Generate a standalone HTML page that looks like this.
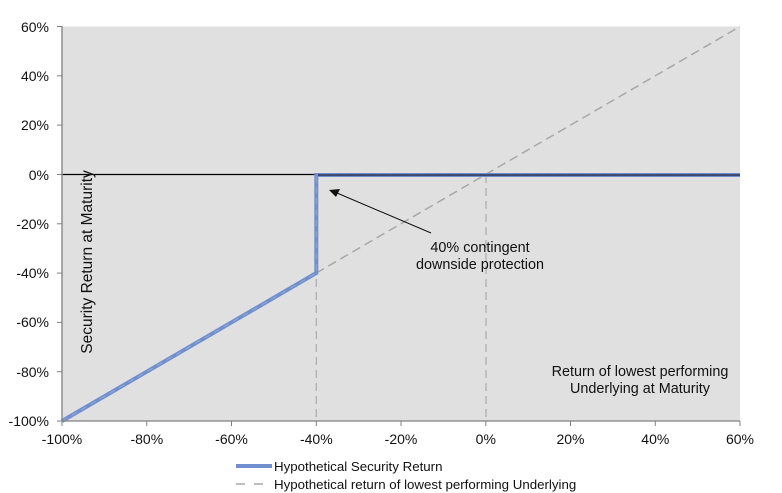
<!DOCTYPE html>
<html><head><style>
html,body{margin:0;padding:0;background:#fff;}
svg{display:block;font-family:"Liberation Sans",Arial,sans-serif;}
</style></head><body>
<svg width="782" height="493" viewBox="0 0 782 493">
<rect x="62" y="26.5" width="678" height="394.5" fill="#e0e0e0"/>
<line x1="316.3" y1="175" x2="316.3" y2="421" stroke="#b0b0b0" stroke-width="1.3" stroke-dasharray="8,5"/>
<line x1="486" y1="175" x2="486" y2="421" stroke="#b0b0b0" stroke-width="1.3" stroke-dasharray="8,5"/>
<line x1="62" y1="174.5" x2="740" y2="174.5" stroke="#000" stroke-width="1.3"/>
<line x1="62" y1="421" x2="740" y2="26.5" stroke="#a8a8a8" stroke-width="1.5" stroke-dasharray="9,5"/>
<polyline points="62,421 316.3,273 316.3,175 740,175" fill="none" stroke="#6f8fcf" stroke-width="4"/>
<polyline points="62,421 316.3,273 316.3,175 740,175" fill="none" stroke="#8ea4d4" stroke-width="1.2" stroke-dasharray="6,5"/>
<line x1="318" y1="175" x2="740" y2="175" stroke="#2a3550" stroke-width="1.5"/>
<line x1="62" y1="26" x2="62" y2="421" stroke="#808080" stroke-width="1.3"/>
<line x1="62" y1="421" x2="740" y2="421" stroke="#808080" stroke-width="1.3"/>
<g stroke="#808080" stroke-width="1">
<line x1="57" y1="26.5" x2="62" y2="26.5"/><line x1="57" y1="75.8" x2="62" y2="75.8"/><line x1="57" y1="125.1" x2="62" y2="125.1"/><line x1="57" y1="174.5" x2="62" y2="174.5"/><line x1="57" y1="223.8" x2="62" y2="223.8"/><line x1="57" y1="273.1" x2="62" y2="273.1"/><line x1="57" y1="322.4" x2="62" y2="322.4"/><line x1="57" y1="371.7" x2="62" y2="371.7"/><line x1="57" y1="421" x2="62" y2="421"/>
<line x1="62" y1="421" x2="62" y2="426"/><line x1="146.8" y1="421" x2="146.8" y2="426"/><line x1="231.5" y1="421" x2="231.5" y2="426"/><line x1="316.3" y1="421" x2="316.3" y2="426"/><line x1="401" y1="421" x2="401" y2="426"/><line x1="485.8" y1="421" x2="485.8" y2="426"/><line x1="570.5" y1="421" x2="570.5" y2="426"/><line x1="655.3" y1="421" x2="655.3" y2="426"/><line x1="740" y1="421" x2="740" y2="426"/>
</g>
<g font-size="14" fill="#111" text-anchor="end">
<text x="49" y="32">60%</text><text x="49" y="81">40%</text><text x="49" y="130">20%</text><text x="49" y="180">0%</text><text x="49" y="229">-20%</text><text x="49" y="278">-40%</text><text x="49" y="327">-60%</text><text x="49" y="377">-80%</text><text x="49" y="426">-100%</text>
</g>
<g font-size="14" fill="#111" text-anchor="middle">
<text x="62" y="444">-100%</text><text x="146.8" y="444">-80%</text><text x="231.5" y="444">-60%</text><text x="316.3" y="444">-40%</text><text x="401" y="444">-20%</text><text x="485.8" y="444">0%</text><text x="570.5" y="444">20%</text><text x="655.3" y="444">40%</text><text x="740" y="444">60%</text>
</g>
<text transform="translate(92,262) rotate(-90)" font-size="15.5" fill="#111" text-anchor="middle">Security Return at Maturity</text>
<g font-size="14.4" fill="#111" text-anchor="middle">
<text x="480" y="252">40% contingent</text><text x="480" y="269">downside protection</text>
<text x="640" y="376">Return of lowest performing</text><text x="640" y="393">Underlying at Maturity</text>
</g>
<line x1="431" y1="233" x2="337" y2="193" stroke="#111" stroke-width="1"/>
<polygon points="329,190 340,189 336,197" fill="#111"/>
<line x1="236" y1="466" x2="272" y2="466" stroke="#6f8fcf" stroke-width="4"/>
<text x="274" y="471" font-size="13.3" fill="#111">Hypothetical Security Return</text>
<line x1="236" y1="484" x2="272" y2="484" stroke="#a8a8a8" stroke-width="1.5" stroke-dasharray="9,9"/>
<text x="274" y="489" font-size="13.3" fill="#111">Hypothetical return of lowest performing Underlying</text>
</svg>
</body></html>
